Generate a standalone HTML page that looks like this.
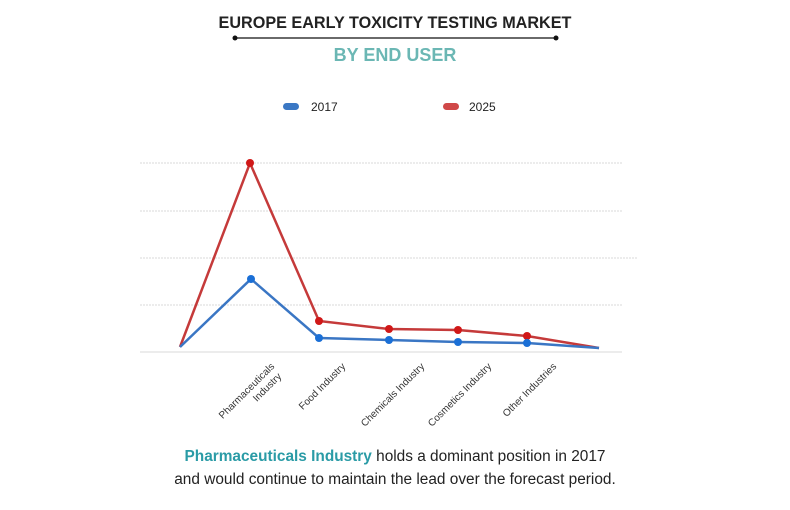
<!DOCTYPE html>
<html><head><meta charset="utf-8"><style>
body{margin:0;background:#fff;width:790px;height:505px;overflow:hidden;font-family:"Liberation Sans",sans-serif}
</style></head><body>
<svg width="790" height="505" xmlns="http://www.w3.org/2000/svg" font-family="Liberation Sans, sans-serif">
<text x="395" y="28" text-anchor="middle" font-size="16.2" font-weight="bold" fill="#222">EUROPE EARLY TOXICITY TESTING MARKET</text>
<line x1="235" y1="38" x2="556" y2="38" stroke="#111" stroke-width="1.3"/>
<circle cx="235" cy="38" r="2.5" fill="#111"/><circle cx="556" cy="38" r="2.5" fill="#111"/>
<text x="395" y="61" text-anchor="middle" font-size="18" font-weight="bold" fill="#6bb7b4">BY END USER</text>
<rect x="283" y="103" width="16" height="7" rx="3.5" fill="#3b78c4"/>
<text x="311" y="111" font-size="12" fill="#222">2017</text>
<rect x="443" y="103" width="16" height="7" rx="3.5" fill="#d04848"/>
<text x="469" y="111" font-size="12" fill="#222">2025</text>
<g stroke="#d8d8d8" stroke-width="1" stroke-dasharray="2,1">
<line x1="140" y1="163" x2="622" y2="163"/>
<line x1="140" y1="211" x2="622" y2="211"/>
<line x1="140" y1="258" x2="638" y2="258"/>
<line x1="140" y1="305" x2="622" y2="305"/>
<line x1="140" y1="352" x2="622" y2="352" stroke-dasharray="none"/>
</g>
<polyline points="180,347 250,163 319,321 389,329 458,330 527,336 599,348" fill="none" stroke="#c53a3a" stroke-width="2.5"/>
<polyline points="180,347 251,279 319,338 389,340 458,342 527,343 599,348" fill="none" stroke="#3a76c4" stroke-width="2.5"/>
<g fill="#d01818"><circle cx="250" cy="163" r="4"/><circle cx="319" cy="321" r="4"/><circle cx="389" cy="329" r="4"/><circle cx="458" cy="330" r="4"/><circle cx="527" cy="336" r="4"/></g>
<g fill="#1a6fd6"><circle cx="251" cy="279" r="4"/><circle cx="319" cy="338" r="4"/><circle cx="389" cy="340" r="4"/><circle cx="458" cy="342" r="4"/><circle cx="527" cy="343" r="4"/></g>
<g font-size="10" fill="#333" text-anchor="end">
<text transform="translate(275,367) rotate(-45)">Pharmaceuticals</text>
<text transform="translate(282,377) rotate(-45)">Industry</text>
<text transform="translate(346,367) rotate(-45)">Food Industry</text>
<text transform="translate(425,367) rotate(-45)">Chemicals Industry</text>
<text transform="translate(492,367) rotate(-45)">Cosmetics Industry</text>
<text transform="translate(557,367) rotate(-45)">Other Industries</text>
</g>
<text x="395" y="461" text-anchor="middle" font-size="15.4" fill="#222"><tspan font-weight="bold" fill="#2a9ba6">Pharmaceuticals Industry</tspan> holds a dominant position in 2017</text>
<text x="395" y="484" text-anchor="middle" font-size="15.4" fill="#222">and would continue to maintain the lead over the forecast period.</text>
</svg>
</body></html>
